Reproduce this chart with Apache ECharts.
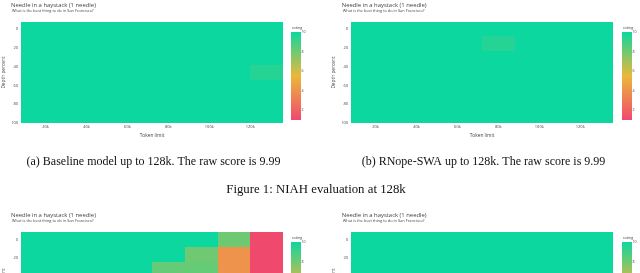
<!DOCTYPE html>
<html><head><meta charset="utf-8">
<script src="https://cdn.jsdelivr.net/npm/echarts@6/dist/echarts.min.js"></script>
<style>html,body{margin:0;padding:0;background:#fff}#c{width:640px;height:273px}</style>
</head><body><div id="c"></div>
<script>
// ---- data ----
const tokenLimitsK = [16, 32, 48, 64, 80, 96, 112, 128];
const depthTop = [0, 15.4, 30.8, 46.2, 61.5, 76.9, 92.3];
const depthBottom = [0, 16.7, 33.3, 50, 66.7, 83.3, 100];
const xTickValues = [20, 40, 60, 80, 100, 120];
const yTickValues = [0, 20, 40, 60, 80, 100];
const colorbarTicks = [2, 4, 6, 8, 10];
// rows = depth, cols = token limit
const scoresA = [
  [10,10,10,10,10,10,10,10],
  [10,10,10,10,10,10,10,10],
  [10,10,10,10,10,10,10,10],
  [10,10,10,10,10,10,10,9.5],
  [10,10,10,10,10,10,10,10],
  [10,10,10,10,10,10,10,10],
  [10,10,10,10,10,10,10,10]
];
const scoresB = [
  [10,10,10,10,10,10,10,10],
  [10,10,10,10,9.5,10,10,10],
  [10,10,10,10,10,10,10,10],
  [10,10,10,10,10,10,10,10],
  [10,10,10,10,10,10,10,10],
  [10,10,10,10,10,10,10,10],
  [10,10,10,10,10,10,10,10]
];
const scoresC = [
  [10,10,10,10,10,10,8,1],
  [10,10,10,10,10,8,4,1],
  [10,10,10,10,8.2,8.2,4,1],
  [10,10,10,10,8,8,4,1],
  [10,10,10,10,8,8,4,1],
  [10,10,10,10,8,8,4,1],
  [10,10,10,10,8,8,4,1]
];
const scoresD = [
  [10,10,10,10,10,10,10,10],
  [10,10,10,10,10,10,10,10],
  [10,10,10,10,10,10,10,10],
  [10,10,10,10,10,10,10,10],
  [10,10,10,10,10,10,10,10],
  [10,10,10,10,10,10,10,10],
  [10,10,10,10,10,10,10,10]
];
const colorscale = ['#F0496E', '#EBB839', '#0CD79F'];
const titleText = 'Needle in a haystack (1 needle)';
const subtitleText = 'What is the best thing to do in San Francisco?';
const captionA = '(a) Baseline model up to 128k. The raw score is 9.99';
const captionB = '(b) RNope-SWA up to 128k. The raw score is 9.99';
const figCaption = 'Figure 1: NIAH evaluation at 128k';

// ---- build ----
const chart = echarts.init(document.getElementById('c'), null, {renderer: 'canvas'});
const SANS = '"Open Sans", sans-serif';
const SERIF = '"Liberation Serif", "Times New Roman", serif';
const TXT = '#444';

const panels = [
  {scores: scoresA, depth: depthTop, left: 21, top: 22, height: 101, ymin: -7.7, ymax: 100, cbLeft: 291, cbTop: 32},
  {scores: scoresB, depth: depthTop, left: 351, top: 22, height: 101, ymin: -7.7, ymax: 100, cbLeft: 622, cbTop: 32},
  {scores: scoresC, depth: depthBottom, left: 21, top: 232, height: 105, ymin: -8.33, ymax: 108.33, cbLeft: 291, cbTop: 242},
  {scores: scoresD, depth: depthBottom, left: 351, top: 232, height: 105, ymin: -8.33, ymax: 108.33, cbLeft: 622, cbTop: 242}
];

const grid = [], xAxis = [], yAxis = [], series = [], graphic = [];
const heatSeriesIdx = [];

panels.forEach((p, i) => {
  const dx = tokenLimitsK[1] - tokenLimitsK[0];
  const dy = p.depth[1] - p.depth[0];
  const g = grid.length;
  grid.push({left: p.left, top: p.top, width: 262, height: p.height, containLabel: false, outerBoundsMode: 'none'});
  const xi = xAxis.length;
  xAxis.push({
    type: 'value', gridIndex: g,
    min: tokenLimitsK[0] - dx / 2, max: tokenLimitsK[tokenLimitsK.length - 1] + dx / 2,
    axisLine: {show: false}, axisTick: {show: false}, splitLine: {show: false},
    axisLabel: {customValues: xTickValues, formatter: v => v + 'k', fontSize: 4, color: TXT, fontFamily: SANS, margin: 2},
    name: 'Token limit', nameLocation: 'middle', nameGap: 10,
    nameTextStyle: {fontSize: 4.8, color: TXT, fontFamily: SANS}
  });
  const yi = yAxis.length;
  yAxis.push({
    type: 'value', gridIndex: g, inverse: true, min: p.ymin, max: p.ymax,
    axisLine: {show: false}, axisTick: {show: false}, splitLine: {show: false},
    axisLabel: {customValues: yTickValues, fontSize: 4, color: TXT, fontFamily: SANS, margin: 3},
    name: 'Depth percent', nameLocation: 'middle', nameGap: 15, nameRotate: 90,
    nameTextStyle: {fontSize: 4.8, color: TXT, fontFamily: SANS}
  });
  const data = [];
  p.scores.forEach((row, r) => row.forEach((s, c) => data.push([tokenLimitsK[c], p.depth[r], s])));
  heatSeriesIdx.push(series.length);
  series.push({
    type: 'custom', xAxisIndex: xi, yAxisIndex: yi, clip: true,
    encode: {x: 0, y: 1},
    data: data,
    renderItem: (params, api) => {
      const x = api.value(0), y = api.value(1);
      const a = api.coord([x - dx / 2, y - dy / 2]);
      const b = api.coord([x + dx / 2, y + dy / 2]);
      const x0 = Math.round(Math.min(a[0], b[0])), x1 = Math.round(Math.max(a[0], b[0]));
      const y0 = Math.round(Math.min(a[1], b[1])), y1 = Math.round(Math.max(a[1], b[1]));
      return {type: 'rect',
        shape: {x: x0, y: y0, width: x1 - x0, height: y1 - y0},
        style: {fill: api.visual('color')}};
    }
  });

  // colorbar
  const cg = grid.length;
  grid.push({left: p.cbLeft, top: p.cbTop, width: 10, height: 88, outerBoundsMode: 'none'});
  const cxi = xAxis.length;
  xAxis.push({type: 'category', gridIndex: cg, data: ['rating'], show: false});
  const cyi = yAxis.length;
  yAxis.push({
    type: 'value', gridIndex: cg, min: 1, max: 10, position: 'right',
    axisLine: {show: false}, axisTick: {show: false}, splitLine: {show: false},
    axisLabel: {customValues: colorbarTicks, fontSize: 3.6, color: TXT, fontFamily: SANS, margin: 0.5}
  });
  series.push({
    type: 'custom', xAxisIndex: cxi, yAxisIndex: cyi, clip: false,
    data: [[0, 1, 10]],
    renderItem: (params, api) => {
      const lo = api.coord([api.value(0), api.value(1)]);
      const hi = api.coord([api.value(0), api.value(2)]);
      const w = api.size([1, 0])[0];
      return {type: 'rect',
        shape: {x: lo[0] - w / 2, y: hi[1], width: w, height: lo[1] - hi[1]},
        style: {fill: new echarts.graphic.LinearGradient(0, 0, 0, 1, [
          {offset: 0, color: colorscale[2]}, {offset: 0.5, color: colorscale[1]}, {offset: 1, color: colorscale[0]}])}};
    }
  });
  graphic.push({type: 'text', x: p.cbLeft + 1, y: p.cbTop - 4.5,
    style: {text: 'rating', fontSize: 3.8, fontFamily: SANS, fill: TXT, verticalAlign: 'middle'}});

  // titles
  const tx = p.left - 10 + (i % 2 ? 0.7 : 0);
  graphic.push({type: 'text', x: tx, y: p.top - 17,
    style: {text: titleText, fontSize: 5.9, fontFamily: SANS, fill: TXT, verticalAlign: 'middle'}});
  graphic.push({type: 'text', x: tx + 1, y: p.top - 11.5,
    style: {text: subtitleText, fontSize: 3.9, fontFamily: SANS, fill: TXT, verticalAlign: 'middle'}});
});

graphic.push({type: 'text', x: 153.5, y: 161.7, style: {text: captionA, fontSize: 12, fontFamily: SERIF, fill: '#111', align: 'center', verticalAlign: 'middle'}});
graphic.push({type: 'text', x: 483.5, y: 161.7, style: {text: captionB, fontSize: 12, fontFamily: SERIF, fill: '#111', align: 'center', verticalAlign: 'middle'}});
graphic.push({type: 'text', x: 316, y: 190, style: {text: figCaption, fontSize: 12.8, fontFamily: SERIF, fill: '#111', align: 'center', verticalAlign: 'middle'}});

chart.setOption({
  animation: false,
  backgroundColor: '#fff',
  grid, xAxis, yAxis, series, graphic,
  visualMap: [{
    type: 'continuous', show: false, min: 1, max: 10, dimension: 2,
    seriesIndex: heatSeriesIdx, inRange: {color: colorscale}
  }]
});
</script></body></html>
